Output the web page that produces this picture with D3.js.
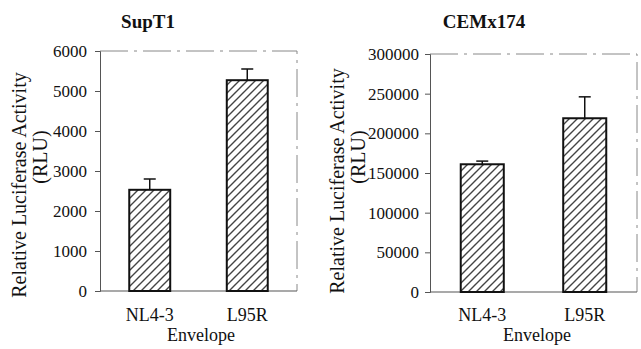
<!DOCTYPE html>
<html>
  <head>
    <meta charset="utf-8">
    <style>
      body { margin: 0; background: #fff; }
    </style>
  </head>
  <body>
    <svg width="641" height="349"></svg>
    <script src="https://d3js.org/d3.v7.min.js"></script>
    <script>
    var categories = ["NL4-3", "L95R"];
    var supT1Values = [2530, 5270];
    var supT1Errors = [270, 280];
    var supT1Ticks = [0, 1000, 2000, 3000, 4000, 5000, 6000];
    var cemValues = [161000, 219000];
    var cemErrors = [4000, 27000];
    var cemTicks = [0, 50000, 100000, 150000, 200000, 250000, 300000];

    var serif = '"Liberation Serif", "Times New Roman", serif';
    var svg = d3.select("svg");

    var defs = svg.append("defs");
    defs.append("pattern")
        .attr("id", "hatch")
        .attr("patternUnits", "userSpaceOnUse")
        .attr("width", 8).attr("height", 8)
      .append("path")
        .attr("d", "M-2,2 l4,-4 M0,8 l8,-8 M6,10 l4,-4")
        .attr("stroke", "#444")
        .attr("stroke-width", 1.4);

    function label(g, size) {
      return g.append("text").style("font-family", serif).style("font-size", size + "px").style("fill", "#111");
    }

    function panel(opt) {
      var x = d3.scaleBand().domain(categories)
          .range([opt.left, opt.right]).paddingInner(0.58).paddingOuter(0.3);
      var y = d3.scaleLinear().domain([0, opt.max]).range([opt.bottom, opt.top]);
      var g = svg.append("g");

      // dashed frame top/right
      g.append("path")
          .attr("d", "M" + opt.left + "," + opt.top + "H" + opt.right + "V" + opt.bottom)
          .attr("fill", "none").attr("stroke", "#888").attr("stroke-width", 1)
          .attr("stroke-dasharray", "28,6,3,6");

      var ax = g.append("g")
          .attr("transform", "translate(" + opt.left + ",0)")
          .call(d3.axisLeft(y).tickValues(opt.ticks).tickSize(5).tickPadding(opt.pad).tickFormat(d3.format("d")));
      ax.attr("font-family", null).attr("font-size", null);
      ax.select(".domain").attr("stroke", "#555");
      ax.selectAll(".tick line").attr("stroke", "#555");
      ax.selectAll("text").style("font-size", "17px").style("fill", "#111")
          .style("font-family", serif);

      g.append("line")
          .attr("x1", opt.left).attr("x2", opt.right)
          .attr("y1", opt.bottom).attr("y2", opt.bottom)
          .attr("stroke", "#555").attr("stroke-width", 1.2);

      // error bars (upper only)
      categories.forEach(function(c, i) {
        var cx = x(c) + x.bandwidth() / 2;
        var top = y(opt.values[i] + opt.errors[i]);
        g.append("line").attr("x1", cx).attr("x2", cx)
            .attr("y1", y(opt.values[i])).attr("y2", top)
            .attr("stroke", "#111").attr("stroke-width", 1.5);
        g.append("line").attr("x1", cx - 6).attr("x2", cx + 6)
            .attr("y1", top).attr("y2", top)
            .attr("stroke", "#111").attr("stroke-width", 1.5);
      });

      g.selectAll(".bar").data(opt.values).enter().append("rect")
          .attr("x", function(d, i) { return x(categories[i]); })
          .attr("width", x.bandwidth())
          .attr("y", function(d) { return y(d); })
          .attr("height", function(d) { return opt.bottom - y(d); })
          .attr("fill", "url(#hatch)")
          .attr("stroke", "#111").attr("stroke-width", 2);

      categories.forEach(function(c) {
        label(g, 18).attr("x", x(c) + x.bandwidth() / 2).attr("y", 321)
            .attr("text-anchor", "middle").text(c);
      });

      label(g, 18).attr("x", opt.envX).attr("y", 341).attr("text-anchor", "middle").text("Envelope");

      label(g, 19).attr("x", opt.titleX).attr("y", 28).attr("text-anchor", "middle")
          .style("font-weight", "bold").text(opt.title);

      label(g, 20).attr("transform", "translate(" + opt.labX + "," + opt.labY + ") rotate(-90)")
          .attr("text-anchor", "middle").text("Relative Luciferase Activity");
      label(g, 20).attr("transform", "translate(" + (opt.labX + 21) + ",157) rotate(-90)")
          .attr("text-anchor", "middle").text("(RLU)");
    }

    panel({ left: 100, right: 297, top: 51, bottom: 291, max: 6000, ticks: supT1Ticks,
            values: supT1Values, errors: supT1Errors, pad: 8, envX: 201, titleX: 148,
            title: "SupT1", labX: 26, labY: 185 });
    panel({ left: 430, right: 637, top: 54, bottom: 292, max: 300000, ticks: cemTicks,
            values: cemValues, errors: cemErrors, pad: 6, envX: 537, titleX: 484,
            title: "CEMx174", labX: 344, labY: 181 });
    </script>
  </body>
</html>
